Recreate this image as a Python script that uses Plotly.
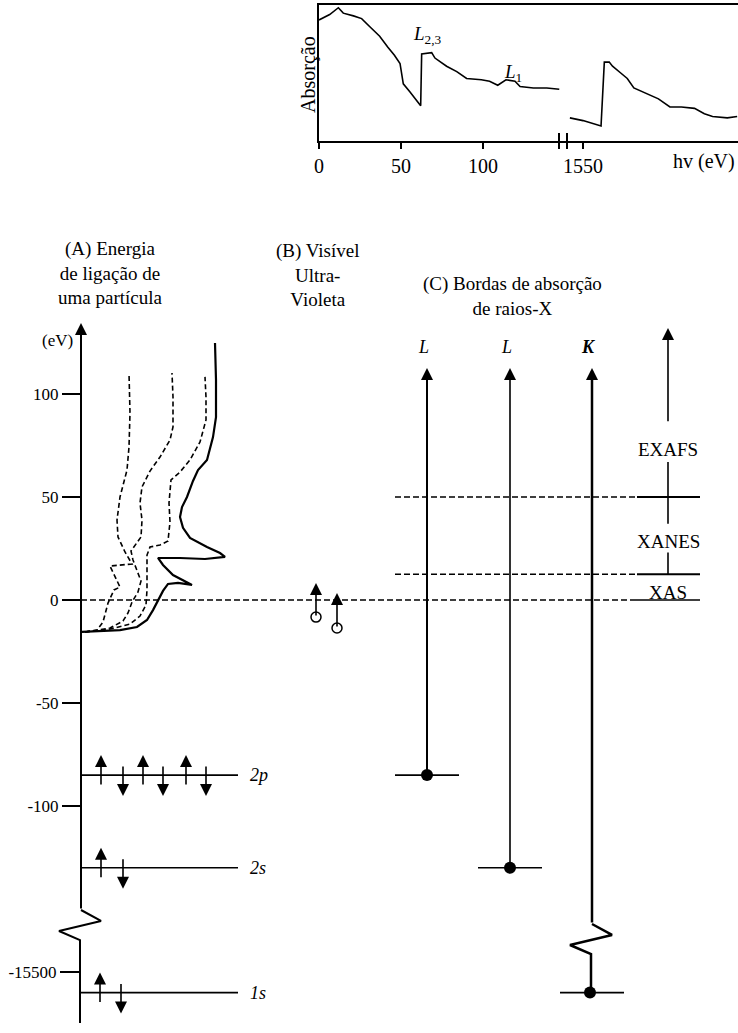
import plotly.graph_objects as go

W, H = 738, 1033
FONT = "Liberation Serif, Times New Roman, Times, serif"

# ---------------- Inset: absorption spectrum (arbitrary units) ----------------
spec_low_ev = [0, 6.5, 11.8, 14.8, 21, 26, 31, 37, 42, 46, 49.4, 50.4, 51.4, 55.5, 59.6, 62.0,
               62.6, 68.7, 70.7, 77.8, 84, 90, 99, 104, 109, 114, 119.5, 122.6, 130.7, 138.9, 146.5]
spec_low_abs = [0.89, 0.93, 0.98, 0.94, 0.92, 0.90, 0.84, 0.77, 0.69, 0.63, 0.57, 0.50, 0.42, 0.36, 0.30, 0.26,
                0.64, 0.65, 0.61, 0.55, 0.51, 0.46, 0.45, 0.44, 0.41, 0.45, 0.44, 0.40, 0.39, 0.39, 0.38]
spec_high_ev = [1542, 1550, 1561, 1563, 1566, 1568, 1573, 1577, 1581, 1588, 1596, 1603, 1610, 1618, 1624,
                1629, 1638, 1644]
spec_high_abs = [0.17, 0.15, 0.11, 0.58, 0.58, 0.55, 0.50, 0.46, 0.39, 0.35, 0.31, 0.25, 0.25, 0.24, 0.20,
                 0.18, 0.17, 0.18]
spec_ticks_low = [0, 50, 100]
spec_ticks_high = [1550]

# ---------------- Energy-level diagram ----------------
tick_upper = [100, 50, 0, -50, -100]
tick_lower = [-15500]

level_names = ["2p", "2s", "1s"]
level_energy = [-85, -130, -15510]
spin_up_x = [[101, 143, 186], [101], [100]]
spin_down_x = [[123, 163, 206], [123], [121]]

# (A) one-particle binding-energy curves: horizontal position, energy (eV)
solid_x = [82, 100, 120, 137, 147, 153, 158, 163, 168, 178, 192, 183, 173, 163, 158, 180, 205, 225, 220,
           207, 190, 183, 180, 182, 187, 193, 198, 207, 213, 216, 216, 215]
solid_e = [-15.5, -15.0, -14.6, -13.1, -9.7, -4.9, -0.5, 4.4, 7.8, 8.3, 7.3, 9.7, 12.1, 17.0, 20.4, 20.4,
           19.9, 20.9, 22.8, 25.7, 30.1, 35.0, 40.3, 45.1, 50.0, 57.8, 63.1, 68.0, 79.1, 88.8, 106.8, 124.8]
dash1_x = [85, 97, 103, 108, 114, 120, 110, 132, 125, 118, 117, 120, 127, 129, 130, 129]
dash1_e = [-15.5, -14.6, -10.7, -1.5, 4.9, 6.3, 16.5, 17.5, 23.3, 30.6, 38.8, 50.0, 63.1, 74.3, 90.8, 110.2]
dash2_x = [85, 93, 110, 123, 128, 132, 138, 141, 137, 133, 131, 135, 141, 142, 140, 142, 150, 160, 170,
           173, 173, 172]
dash2_e = [-15.5, -15.0, -13.6, -10.2, -6.3, -1.0, 3.9, 9.2, 14.6, 19.4, 23.8, 26.7, 30.6, 38.8, 47.1,
           54.9, 62.6, 69.4, 77.7, 84.0, 98.5, 110.2]
dash3_x = [85, 93, 110, 130, 140, 146, 147, 147, 147, 150, 160, 168, 170, 169, 171, 180, 190, 200, 206,
           206, 205]
dash3_e = [-15.5, -15.0, -14.1, -11.7, -7.8, -2.4, 4.9, 14.6, 21.8, 25.7, 26.7, 28.6, 37.9, 47.1, 58.3,
           62.1, 68.0, 76.7, 87.4, 98.5, 108.3]

# (B) visible / UV transitions
uv_x = [316, 337]
uv_from = [-8.3, -13.6]
uv_to = [8.3, 3.4]

# (C) X-ray absorption edges
edge_labels = ["L", "L", "K"]
edge_x = [427, 510, 592]
edge_level = [0, 1, 2]
edge_tip = 112.6

region_bounds = [0, 12.5, 50]
region_labels = ["XAS", "XANES", "EXAFS"]
region_label_e = [3.5, 28.2, 73.3]

# ---------------- layout constants (pixels) ----------------
IN_L, IN_B, IN_R, IN_T, IN_BRK = 319, 141, 738, 5, 563
SPEC_PX = 1.64
AXIS_X = 81
PX_EV = 2.06
ZERO_PX = 600
TOP_PX = 300
BREAK_PX = 955
LOW_REF_E, LOW_REF_PX = -15500, 972
LEVEL_END = 238
ARROW_TOP = 134.5
ZIG_DX = [0, 20, -22, -1]
ZIG_DE = [0, -5.3, -10.2, -14.6]


def px_x(p):
    return p / W


def px_y(p):
    return 1 - p / H


def e_at(p):
    return (ZERO_PX - p) / PX_EV


UP_BOTTOM_E = e_at(BREAK_PX)
UP_TOP_E = e_at(TOP_PX)
LOW_TOP_E = LOW_REF_E + (LOW_REF_PX - BREAK_PX) / PX_EV
LOW_BOTTOM_E = LOW_REF_E - (H - LOW_REF_PX) / PX_EV

fig = go.Figure()
BLACK = "black"


def add_line(xs, es, yaxis="y3", width=1.5, dash="solid", xaxis="x3"):
    fig.add_trace(go.Scatter(x=xs, y=es, mode="lines", xaxis=xaxis, yaxis=yaxis,
                             line=dict(color=BLACK, width=width, dash=dash),
                             hoverinfo="skip", showlegend=False))


def add_arrow(x, e_tail, e_tip, yref="y3", width=1.5, head=2.4):
    fig.add_annotation(x=x, y=e_tip, ax=x, ay=e_tail, xref="x3", yref=yref, axref="x3", ayref=yref,
                       text="", showarrow=True, arrowhead=2, arrowsize=head / width, arrowwidth=width,
                       arrowcolor=BLACK, standoff=0, startstandoff=0)


# ---- inset spectrum ----
add_line(spec_low_ev, spec_low_abs, yaxis="y", xaxis="x", width=1.6)
add_line(spec_high_ev, spec_high_abs, yaxis="y", xaxis="x2", width=1.6)

# ---- (A) curves ----
add_line(dash1_x, dash1_e, dash="5px,3px", width=1.6)
add_line(dash2_x, dash2_e, dash="5px,3px", width=1.6)
add_line(dash3_x, dash3_e, dash="5px,3px", width=1.6)
add_line(solid_x, solid_e, width=2.2)

# ---- energy axis with break ----
zx = [AXIS_X + d for d in ZIG_DX]
brk_e = e_at(910)
add_arrow(AXIS_X, brk_e, ARROW_TOP, width=2)
add_line(zx + [zx[-1]], [brk_e + d for d in ZIG_DE] + [UP_BOTTOM_E], width=2)
add_line([zx[-1], zx[-1]], [LOW_TOP_E, LOW_REF_E - (1023 - LOW_REF_PX) / PX_EV], yaxis="y4", width=2)

# ---- levels and spins ----
for i, (name, e) in enumerate(zip(level_names, level_energy)):
    ya = "y3" if e > UP_BOTTOM_E else "y4"
    add_line([AXIS_X, LEVEL_END], [e, e], yaxis=ya, width=1.6)
    for x in spin_up_x[i]:
        add_arrow(x, e - 5.3, e + 9.7, yref=ya, width=1.6)
    for x in spin_down_x[i]:
        add_arrow(x, e + 4.9, e - 10.2, yref=ya, width=1.6)
    fig.add_annotation(x=LEVEL_END + 10, y=e, xref="x3", yref=ya, text=f"<i>{name}</i>",
                       showarrow=False, xanchor="left", yanchor="middle",
                       font=dict(family=FONT, size=18, color=BLACK))

# ---- reference lines (zero and XAS regions) ----
add_line([AXIS_X, 630], [0, 0], dash="6px,3px", width=1.5)
add_line([630, 700], [0, 0], width=1.6)
for b in region_bounds[1:]:
    add_line([395, 637], [b, b], dash="6px,3px", width=1.5)
    add_line([637, 700], [b, b], width=1.8)

# region arrow
RX = 668
add_line([RX, RX], [region_bounds[1], 23], width=1.6)
add_line([RX, RX], [37, 67], width=1.6)
add_arrow(RX, 86, 132, width=1.6)
for lab, e in zip(region_labels, region_label_e):
    fig.add_annotation(x=RX, y=e, xref="x3", yref="y3", text=lab, showarrow=False,
                       font=dict(family=FONT, size=19, color=BLACK))

# ---- (B) UV transitions ----
for x, e0, e1 in zip(uv_x, uv_from, uv_to):
    add_arrow(x, e0, e1, width=1.6)
fig.add_trace(go.Scatter(x=uv_x, y=uv_from, mode="markers", xaxis="x3", yaxis="y3",
                         marker=dict(symbol="circle", size=10, color="white",
                                     line=dict(color=BLACK, width=1.5)),
                         hoverinfo="skip", showlegend=False))

# ---- (C) absorption edges ----
for lab, x, li in zip(edge_labels, edge_x, edge_level):
    e = level_energy[li]
    ya = "y3" if e > UP_BOTTOM_E else "y4"
    add_line([x - 32, x + 32], [e, e], yaxis=ya, width=1.6)
    if ya == "y3":
        add_arrow(x, e, edge_tip, width=2 if li == 0 else 1.6)
    else:
        kb = e_at(924)
        kx = [x + d for d in ZIG_DX]
        add_arrow(x, kb, edge_tip, width=2.5)
        add_line(kx + [kx[-1]], [kb + d for d in ZIG_DE] + [UP_BOTTOM_E], width=2.5)
        add_line([kx[-1], kx[-1]], [LOW_TOP_E, e], yaxis="y4", width=2.5)
    fig.add_trace(go.Scatter(x=[x if ya == "y3" else x - 2], y=[e], mode="markers", xaxis="x3", yaxis=ya,
                             marker=dict(symbol="circle", size=12, color=BLACK),
                             hoverinfo="skip", showlegend=False))
    fig.add_annotation(x=x - 4, y=e_at(347), xref="x3", yref="y3",
                       text=(f"<b><i>{lab}</i></b>" if lab == "K" else f"<i>{lab}</i>"),
                       showarrow=False, font=dict(family=FONT, size=18, color=BLACK))


# ---- titles ----
def title(xp, yp, txt, size=19, xanchor="center", angle=0):
    fig.add_annotation(x=px_x(xp), y=px_y(yp), xref="paper", yref="paper", text=txt, showarrow=False,
                       xanchor=xanchor, yanchor="middle", align="center", textangle=angle,
                       font=dict(family=FONT, size=size, color=BLACK))


title(110, 273, "(A) Energia<br>de ligação de<br>uma partícula")
title(317, 275, "(B) Visível<br>Ultra-<br>Violeta")
title(512, 296, "(C) Bordas de absorção<br>de raios-X")
title(57, 340, "(eV)", 17)
title(737, 162, "hv (eV)", 20, xanchor="right")
title(309, 75, "Absorção", 20, angle=-90)

# inset edge labels
fig.add_annotation(x=66, y=0.78, xref="x", yref="y", text="<i>L</i><sub>2,3</sub>", showarrow=False,
                   font=dict(family=FONT, size=19, color=BLACK))
fig.add_annotation(x=118, y=0.50, xref="x", yref="y", text="<i>L</i><sub>1</sub>", showarrow=False,
                   font=dict(family=FONT, size=19, color=BLACK))

# inset break marks
for bx in (559, 567):
    fig.add_shape(type="line", xref="paper", yref="paper", x0=px_x(bx), x1=px_x(bx),
                  y0=px_y(133), y1=px_y(149), line=dict(color=BLACK, width=2))

tickfont = dict(family=FONT, size=20, color=BLACK)
fig.update_layout(
    width=W, height=H, margin=dict(l=0, r=0, t=0, b=0),
    paper_bgcolor="white", plot_bgcolor="white", showlegend=False, hovermode=False,
    xaxis=dict(domain=[px_x(IN_L), px_x(IN_BRK)], anchor="y",
               range=[0, (IN_BRK - IN_L) / SPEC_PX], tickvals=spec_ticks_low,
               ticktext=[str(v) for v in spec_ticks_low], ticks="outside", ticklen=6, tickwidth=2,
               tickcolor=BLACK, showline=True, linewidth=2, linecolor=BLACK, mirror=True,
               showgrid=False, zeroline=False, tickfont=tickfont, automargin=False),
    xaxis2=dict(domain=[px_x(IN_BRK), 1], anchor="y",
                range=[1550 - (583 - IN_BRK) / SPEC_PX, 1550 + (IN_R - 583) / SPEC_PX],
                tickvals=spec_ticks_high, ticktext=[str(v) for v in spec_ticks_high], ticks="outside",
                ticklen=6, tickwidth=2, tickcolor=BLACK, showline=True, linewidth=2, linecolor=BLACK,
                mirror=True, showgrid=False, zeroline=False, tickfont=tickfont, automargin=False),
    yaxis=dict(domain=[px_y(IN_B), px_y(IN_T)], anchor="x", range=[0, 1], showticklabels=False,
               ticks="", showline=True, linewidth=2, linecolor=BLACK, showgrid=False, zeroline=False,
               automargin=False),
    xaxis3=dict(domain=[0, 1], anchor="y3", range=[0, W], visible=False),
    yaxis3=dict(domain=[px_y(BREAK_PX), px_y(TOP_PX)], anchor="free", position=px_x(AXIS_X),
                range=[UP_BOTTOM_E, UP_TOP_E], tickvals=tick_upper, ticktext=[str(v) for v in tick_upper],
                ticks="outside", ticklen=19, tickwidth=1.6, tickcolor=BLACK, showline=False,
                showgrid=False, zeroline=False, tickfont=dict(family=FONT, size=17, color=BLACK),
                automargin=False),
    yaxis4=dict(domain=[0, px_y(BREAK_PX)], anchor="free", position=px_x(AXIS_X - 2),
                range=[LOW_BOTTOM_E, LOW_TOP_E], tickvals=tick_lower, ticktext=[str(v) for v in tick_lower],
                ticks="outside", ticklen=19, tickwidth=1.6, tickcolor=BLACK, showline=False,
                showgrid=False, zeroline=False, tickfont=dict(family=FONT, size=17, color=BLACK),
                automargin=False),
)

fig.write_html("out.html", config={"displayModeBar": False, "staticPlot": True},
               post_script="document.body.style.margin='0';document.body.style.overflow='hidden';")
